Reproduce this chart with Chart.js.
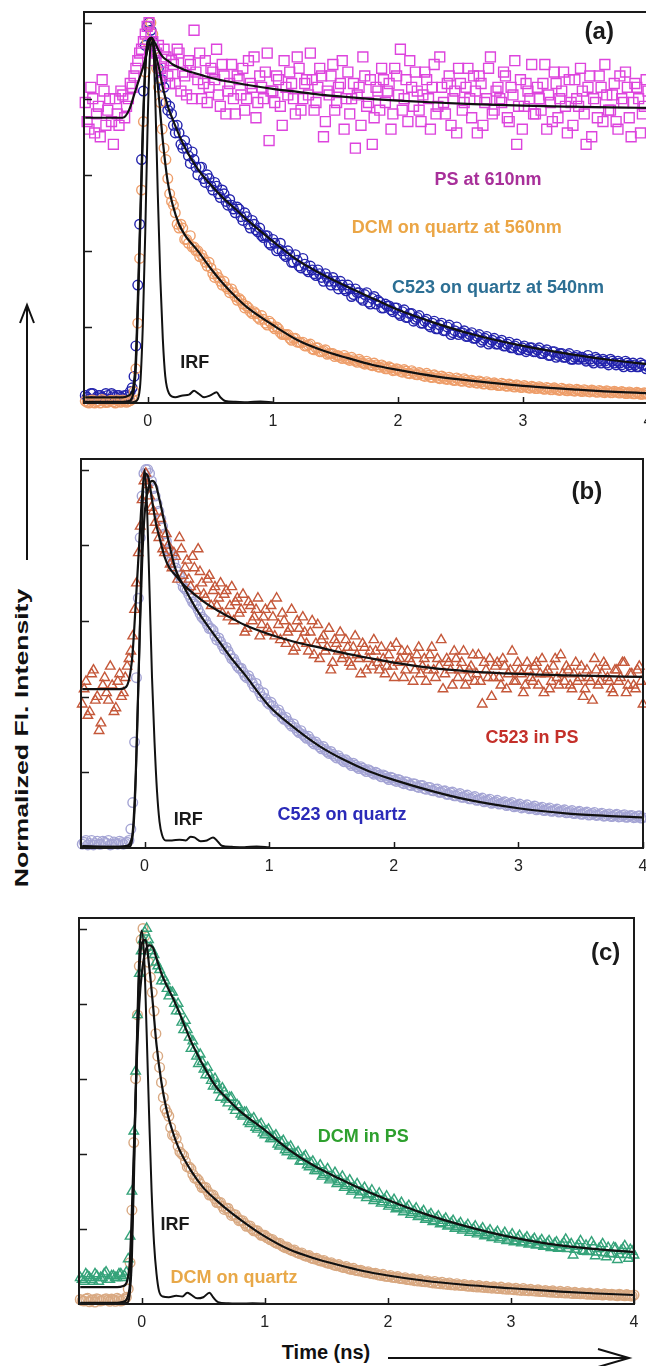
<!DOCTYPE html>
<html>
<head>
<meta charset="utf-8">
<script src="https://cdn.jsdelivr.net/npm/chart.js@4.4.0/dist/chart.umd.min.js"></script>
<style>
html,body{margin:0;padding:0;background:#fff;}
body{width:646px;height:1366px;position:relative;overflow:hidden;font-family:"Liberation Sans",Arial,sans-serif;}
.panel{position:absolute;}
.ytitle{position:absolute;left:22px;top:738px;transform:translate(-50%,-50%) rotate(-90deg) scaleX(1.4);font-weight:bold;font-size:19px;white-space:nowrap;color:#111;}
.xtitle{position:absolute;left:326px;top:1352px;transform:translate(-50%,-50%);font-weight:bold;font-size:20px;white-space:nowrap;color:#111;}
svg{position:absolute;left:0;top:0;}
</style>
</head>
<body>
<div class="panel" style="left:64px;top:2px;width:604px;height:431px"><canvas id="chartA"></canvas></div>
<div class="panel" style="left:61px;top:449px;width:602px;height:429px"><canvas id="chartB"></canvas></div>
<div class="panel" style="left:59px;top:908px;width:595px;height:426px"><canvas id="chartC"></canvas></div>
<div class="ytitle">Normalized Fl. Intensity</div>
<div class="xtitle">Time (ns)</div>
<svg width="646" height="1366">
  <g stroke="#111" stroke-width="2" fill="none">
    <line x1="27" y1="560" x2="27" y2="306"/>
    <polyline points="20,323 27,305 34,323"/>
    <line x1="388" y1="1358" x2="628" y2="1358"/>
    <polyline points="598,1349 629,1358 598,1367"/>
  </g>
</svg>
<script>
// time axis of the measured points (ns), two interleaved sweeps
const timeGrid = [
  -0.50,-0.47,-0.44,-0.41,-0.38,-0.35,-0.32,-0.29,-0.26,-0.23,
  -0.20,-0.17,-0.14,-0.11,-0.08,-0.05,-0.02,0.01,0.04,0.07,
  0.10,0.13,0.16,0.19,0.22,0.25,0.28,0.31,0.34,0.37,
  0.40,0.43,0.46,0.49,0.52,0.55,0.58,0.61,0.64,0.67,
  0.70,0.73,0.76,0.79,0.82,0.85,0.88,0.91,0.94,0.97,
  1.00,1.03,1.06,1.09,1.12,1.15,1.18,1.21,1.24,1.27,
  1.30,1.33,1.36,1.39,1.42,1.45,1.48,1.51,1.54,1.57,
  1.60,1.63,1.66,1.69,1.72,1.75,1.78,1.81,1.84,1.87,
  1.90,1.93,1.96,1.99,2.02,2.05,2.08,2.11,2.14,2.17,
  2.20,2.23,2.26,2.29,2.32,2.35,2.38,2.41,2.44,2.47,
  2.50,2.53,2.56,2.59,2.62,2.65,2.68,2.71,2.74,2.77,
  2.80,2.83,2.86,2.89,2.92,2.95,2.98,3.01,3.04,3.07,
  3.10,3.13,3.16,3.19,3.22,3.25,3.28,3.31,3.34,3.37,
  3.40,3.43,3.46,3.49,3.52,3.55,3.58,3.61,3.64,3.67,
  3.70,3.73,3.76,3.79,3.82,3.85,3.88,3.91,3.94,3.97,
  4.00];
const timeGrid2 = [
  -0.485,-0.455,-0.425,-0.395,-0.365,-0.335,-0.305,-0.275,-0.245,-0.215,
  -0.185,-0.155,-0.125,-0.095,-0.065,-0.035,-0.005,0.025,0.055,0.085,
  0.115,0.145,0.175,0.205,0.235,0.265,0.295,0.325,0.355,0.385,
  0.415,0.445,0.475,0.505,0.535,0.565,0.595,0.625,0.655,0.685,
  0.715,0.745,0.775,0.805,0.835,0.865,0.895,0.925,0.955,0.985,
  1.015,1.045,1.075,1.105,1.135,1.165,1.195,1.225,1.255,1.285,
  1.315,1.345,1.375,1.405,1.435,1.465,1.495,1.525,1.555,1.585,
  1.615,1.645,1.675,1.705,1.735,1.765,1.795,1.825,1.855,1.885,
  1.915,1.945,1.975,2.005,2.035,2.065,2.095,2.125,2.155,2.185,
  2.215,2.245,2.275,2.305,2.335,2.365,2.395,2.425,2.455,2.485,
  2.515,2.545,2.575,2.605,2.635,2.665,2.695,2.725,2.755,2.785,
  2.815,2.845,2.875,2.905,2.935,2.965,2.995,3.025,3.055,3.085,
  3.115,3.145,3.175,3.205,3.235,3.265,3.295,3.325,3.355,3.385,
  3.415,3.445,3.475,3.505,3.535,3.565,3.595,3.625,3.655,3.685,
  3.715,3.745,3.775,3.805,3.835,3.865,3.895,3.925,3.955,3.985];

// (a) PS at 610nm
const psA = [
  0.79,0.72,0.80,0.76,0.70,0.82,0.77,0.74,0.80,0.73,
  0.81,0.78,0.84,0.86,0.90,0.93,0.97,1.00,0.95,0.92,
  0.88,0.93,0.86,0.90,0.84,0.92,0.87,0.81,0.89,0.98,
  0.85,0.80,0.90,0.83,0.87,0.93,0.78,0.86,0.82,0.89,
  0.76,0.85,0.88,0.80,0.84,0.91,0.79,0.83,0.87,0.69,
  0.82,0.86,0.78,0.90,0.81,0.84,0.76,0.88,0.80,0.85,
  0.92,0.77,0.83,0.86,0.74,0.81,0.89,0.79,0.84,0.72,
  0.87,0.80,0.67,0.83,0.91,0.78,0.85,0.75,0.82,0.88,
  0.79,0.84,0.76,0.86,0.93,0.80,0.74,0.83,0.87,0.77,
  0.81,0.85,0.72,0.89,0.78,0.83,0.76,0.86,0.80,0.71,
  0.84,0.79,0.88,0.75,0.82,0.86,0.73,0.80,0.91,0.77,
  0.83,0.79,0.86,0.74,0.81,0.68,0.85,0.78,0.82,0.89,
  0.76,0.80,0.84,0.72,0.79,0.87,0.75,0.82,0.78,0.85,
  0.73,0.80,0.88,0.76,0.83,0.70,0.79,0.86,0.74,0.81,
  0.77,0.84,0.72,0.80,0.87,0.75,0.79,0.83,0.71,0.78,
  0.82];
const psA2 = [
  0.74,0.83,0.71,0.78,0.85,0.73,0.80,0.68,0.76,0.82,
  0.75,0.80,0.83,0.88,0.92,0.95,0.99,0.97,0.90,0.94,
  0.87,0.91,0.84,0.89,0.93,0.82,0.86,0.90,0.80,0.87,
  0.92,0.84,0.79,0.88,0.85,0.81,0.89,0.76,0.84,0.80,
  0.86,0.81,0.77,0.90,0.83,0.75,0.86,0.80,0.92,0.82,
  0.79,0.85,0.73,0.83,0.87,0.80,0.91,0.77,0.84,0.81,
  0.85,0.79,0.88,0.70,0.82,0.86,0.77,0.83,0.90,0.80,
  0.76,0.84,0.81,0.73,0.86,0.79,0.68,0.83,0.77,0.85,
  0.82,0.72,0.88,0.81,0.77,0.85,0.90,0.78,0.82,0.74,
  0.87,0.80,0.83,0.76,0.91,0.79,0.84,0.73,0.82,0.88,
  0.77,0.83,0.80,0.86,0.71,0.84,0.79,0.88,0.76,0.82,
  0.80,0.87,0.75,0.83,0.90,0.78,0.72,0.84,0.80,0.76,
  0.83,0.77,0.89,0.81,0.74,0.84,0.80,0.87,0.71,0.79,
  0.85,0.78,0.82,0.68,0.86,0.80,0.75,0.83,0.89,0.77,
  0.81,0.74,0.86,0.79,0.83,0.70,0.84,0.80,0.76,0.85];
// (a) DCM on quartz at 560nm
const dcmQuartzA = [
  0.005,0.0,0.008,0.003,0.0,0.006,0.002,0.007,0.0,0.004,
  0.008,0.002,0.006,0.03,0.21,0.56,0.87,0.99,0.97,0.88,
  0.79,0.67,0.59,0.53,0.50,0.46,0.46,0.43,0.44,0.41,
  0.40,0.39,0.37,0.37,0.34,0.34,0.32,0.32,0.30,0.30,
  0.28,0.275,0.26,0.255,0.24,0.24,0.225,0.23,0.21,0.215,
  0.20,0.20,0.185,0.18,0.18,0.165,0.17,0.16,0.16,0.15,
  0.155,0.14,0.145,0.135,0.14,0.13,0.13,0.125,0.12,0.125,
  0.115,0.12,0.11,0.115,0.105,0.11,0.10,0.105,0.095,0.10,
  0.09,0.095,0.085,0.09,0.083,0.088,0.078,0.085,0.075,0.08,
  0.072,0.078,0.068,0.074,0.066,0.071,0.063,0.068,0.06,0.066,
  0.058,0.064,0.056,0.06,0.053,0.058,0.05,0.056,0.048,0.053,
  0.046,0.052,0.045,0.05,0.043,0.048,0.041,0.046,0.04,0.044,
  0.038,0.043,0.037,0.041,0.035,0.04,0.034,0.039,0.033,0.037,
  0.032,0.036,0.031,0.035,0.03,0.034,0.029,0.033,0.028,0.032,
  0.027,0.031,0.027,0.03,0.025,0.029,0.024,0.028,0.023,0.027,
  0.022];
const dcmQuartzA2 = [
  0.002,0.007,0.0,0.005,0.009,0.001,0.006,0.003,0.008,0.002,
  0.005,0.004,0.01,0.09,0.38,0.74,0.95,1.00,0.93,0.83,
  0.72,0.64,0.55,0.52,0.47,0.47,0.43,0.42,0.41,0.40,
  0.385,0.38,0.36,0.355,0.33,0.33,0.31,0.305,0.29,0.29,
  0.27,0.27,0.25,0.25,0.235,0.235,0.22,0.22,0.205,0.21,
  0.195,0.195,0.18,0.18,0.17,0.17,0.16,0.158,0.15,0.152,
  0.142,0.145,0.135,0.137,0.128,0.13,0.122,0.124,0.117,0.118,
  0.112,0.114,0.107,0.109,0.102,0.104,0.098,0.1,0.094,0.096,
  0.09,0.092,0.086,0.088,0.081,0.084,0.077,0.08,0.074,0.077,
  0.07,0.073,0.067,0.07,0.064,0.067,0.062,0.064,0.059,0.062,
  0.057,0.06,0.054,0.057,0.052,0.055,0.05,0.052,0.048,0.05,
  0.046,0.049,0.044,0.047,0.042,0.045,0.041,0.043,0.039,0.042,
  0.038,0.04,0.036,0.039,0.035,0.037,0.033,0.036,0.032,0.035,
  0.031,0.034,0.03,0.033,0.029,0.032,0.028,0.031,0.027,0.03,
  0.027,0.029,0.026,0.028,0.025,0.027,0.024,0.026,0.023,0.025];
// (a) C523 on quartz at 540nm
const c523QuartzA = [
  0.02,0.01,0.025,0.015,0.02,0.01,0.02,0.025,0.015,0.02,
  0.01,0.02,0.03,0.07,0.31,0.64,0.94,1.00,0.95,0.92,
  0.85,0.83,0.77,0.76,0.71,0.71,0.67,0.67,0.63,0.64,
  0.60,0.62,0.58,0.59,0.56,0.57,0.54,0.55,0.52,0.52,
  0.50,0.51,0.48,0.49,0.46,0.47,0.45,0.44,0.44,0.42,
  0.43,0.40,0.42,0.39,0.40,0.37,0.39,0.36,0.38,0.35,
  0.36,0.34,0.35,0.33,0.34,0.32,0.33,0.31,0.32,0.30,
  0.31,0.28,0.30,0.29,0.27,0.29,0.26,0.28,0.27,0.25,
  0.26,0.255,0.24,0.25,0.23,0.245,0.225,0.235,0.22,0.23,
  0.21,0.22,0.20,0.215,0.195,0.21,0.19,0.205,0.185,0.20,
  0.185,0.19,0.175,0.185,0.17,0.18,0.165,0.175,0.16,0.17,
  0.155,0.165,0.15,0.16,0.145,0.155,0.14,0.15,0.14,0.145,
  0.135,0.145,0.13,0.14,0.125,0.135,0.125,0.13,0.12,0.13,
  0.115,0.125,0.12,0.115,0.125,0.11,0.12,0.11,0.115,0.105,
  0.115,0.105,0.11,0.10,0.11,0.10,0.105,0.095,0.105,0.10,
  0.095];
const c523QuartzA2 = [
  0.015,0.025,0.01,0.02,0.015,0.025,0.01,0.02,0.02,0.015,
  0.02,0.015,0.04,0.15,0.47,0.82,0.99,0.98,0.93,0.88,
  0.85,0.79,0.78,0.73,0.73,0.68,0.69,0.65,0.66,0.62,
  0.62,0.59,0.60,0.57,0.58,0.55,0.56,0.53,0.535,0.51,
  0.515,0.49,0.50,0.47,0.48,0.455,0.46,0.435,0.44,0.415,
  0.42,0.405,0.40,0.385,0.39,0.37,0.375,0.355,0.365,0.345,
  0.35,0.335,0.34,0.32,0.33,0.31,0.32,0.30,0.31,0.295,
  0.30,0.285,0.29,0.275,0.285,0.265,0.275,0.26,0.265,0.25,
  0.255,0.245,0.25,0.235,0.24,0.225,0.235,0.215,0.225,0.21,
  0.215,0.205,0.21,0.195,0.205,0.19,0.20,0.18,0.19,0.18,
  0.185,0.175,0.18,0.17,0.175,0.16,0.17,0.155,0.165,0.155,
  0.16,0.15,0.155,0.145,0.15,0.14,0.145,0.135,0.145,0.135,
  0.14,0.13,0.135,0.125,0.135,0.12,0.13,0.12,0.125,0.115,
  0.12,0.115,0.12,0.11,0.115,0.105,0.115,0.105,0.11,0.10,
  0.11,0.10,0.105,0.095,0.105,0.095,0.10,0.095,0.10,0.09];

// (b) C523 in PS
const c523PsB = [
  0.38,0.44,0.36,0.47,0.40,0.33,0.45,0.39,0.43,0.37,
  0.46,0.41,0.48,0.52,0.63,0.78,0.92,0.99,0.93,0.89,
  0.84,0.87,0.78,0.80,0.74,0.77,0.82,0.72,0.76,0.69,
  0.74,0.79,0.70,0.66,0.72,0.68,0.64,0.70,0.67,0.61,
  0.69,0.65,0.62,0.67,0.58,0.64,0.61,0.66,0.59,0.63,
  0.57,0.61,0.66,0.55,0.60,0.57,0.63,0.53,0.58,0.61,
  0.54,0.57,0.51,0.59,0.55,0.52,0.58,0.49,0.54,0.57,
  0.51,0.53,0.48,0.56,0.50,0.54,0.47,0.52,0.55,0.49,
  0.53,0.46,0.51,0.48,0.54,0.50,0.45,0.52,0.49,0.47,
  0.53,0.48,0.44,0.51,0.47,0.50,0.55,0.46,0.49,0.43,
  0.50,0.47,0.52,0.45,0.48,0.44,0.51,0.38,0.47,0.50,
  0.45,0.49,0.43,0.48,0.46,0.52,0.44,0.47,0.41,0.49,
  0.45,0.48,0.43,0.50,0.46,0.42,0.48,0.45,0.51,0.44,
  0.47,0.42,0.49,0.45,0.40,0.47,0.44,0.50,0.43,0.46,
  0.48,0.44,0.41,0.47,0.45,0.49,0.43,0.46,0.42,0.48,
  0.38];
const c523PsB2 = [
  0.42,0.35,0.46,0.39,0.31,0.43,0.41,0.48,0.36,0.44,
  0.40,0.45,0.50,0.56,0.70,0.85,0.97,0.96,0.90,0.86,
  0.82,0.79,0.83,0.75,0.78,0.71,0.79,0.74,0.71,0.77,
  0.68,0.73,0.67,0.71,0.64,0.69,0.66,0.62,0.68,0.64,
  0.60,0.66,0.63,0.57,0.65,0.60,0.63,0.56,0.61,0.58,
  0.64,0.56,0.59,0.62,0.54,0.58,0.52,0.60,0.55,0.57,
  0.52,0.60,0.54,0.50,0.56,0.53,0.47,0.55,0.52,0.50,
  0.55,0.49,0.53,0.51,0.46,0.53,0.50,0.48,0.52,0.47,
  0.50,0.48,0.53,0.45,0.49,0.52,0.47,0.50,0.44,0.51,
  0.46,0.50,0.47,0.53,0.45,0.48,0.42,0.50,0.47,0.52,
  0.45,0.49,0.43,0.47,0.51,0.46,0.44,0.49,0.45,0.40,
  0.48,0.45,0.50,0.42,0.47,0.44,0.49,0.46,0.43,0.47,
  0.44,0.49,0.46,0.41,0.47,0.44,0.50,0.43,0.46,0.48,
  0.43,0.46,0.44,0.48,0.42,0.45,0.39,0.47,0.44,0.49,
  0.45,0.42,0.47,0.44,0.49,0.41,0.46,0.43,0.47,0.44];
// (b) C523 on quartz
const c523QuartzB = [
  0.01,0.02,0.012,0.008,0.018,0.01,0.015,0.02,0.01,0.012,
  0.018,0.01,0.015,0.05,0.28,0.66,0.93,1.00,0.99,0.95,
  0.91,0.87,0.83,0.79,0.77,0.74,0.72,0.69,0.68,0.66,
  0.645,0.63,0.61,0.60,0.58,0.575,0.55,0.545,0.525,0.52,
  0.50,0.49,0.475,0.465,0.45,0.445,0.425,0.42,0.40,0.395,
  0.38,0.375,0.36,0.355,0.34,0.335,0.322,0.318,0.305,0.30,
  0.29,0.287,0.275,0.273,0.262,0.26,0.25,0.248,0.238,0.237,
  0.228,0.228,0.218,0.219,0.21,0.211,0.202,0.204,0.195,0.197,
  0.188,0.19,0.181,0.185,0.176,0.179,0.17,0.174,0.165,0.169,
  0.16,0.165,0.155,0.16,0.151,0.156,0.147,0.151,0.142,0.148,
  0.138,0.144,0.134,0.14,0.13,0.136,0.127,0.132,0.124,0.129,
  0.12,0.126,0.117,0.122,0.114,0.12,0.111,0.116,0.108,0.114,
  0.105,0.111,0.103,0.108,0.1,0.106,0.098,0.103,0.096,0.101,
  0.094,0.099,0.092,0.097,0.09,0.095,0.088,0.094,0.087,0.092,
  0.085,0.09,0.084,0.089,0.083,0.088,0.082,0.086,0.081,0.085,
  0.08];
const c523QuartzB2 = [
  0.015,0.008,0.02,0.012,0.01,0.018,0.012,0.008,0.016,0.01,
  0.014,0.012,0.02,0.12,0.45,0.82,0.99,1.00,0.97,0.93,
  0.89,0.85,0.81,0.78,0.755,0.73,0.705,0.685,0.67,0.65,
  0.64,0.62,0.605,0.59,0.58,0.56,0.555,0.535,0.53,0.51,
  0.50,0.48,0.475,0.455,0.455,0.435,0.435,0.41,0.41,0.385,
  0.385,0.365,0.365,0.345,0.345,0.328,0.328,0.31,0.31,0.295,
  0.295,0.28,0.28,0.267,0.268,0.255,0.255,0.243,0.244,0.232,
  0.233,0.223,0.224,0.214,0.215,0.206,0.207,0.199,0.2,0.192,
  0.193,0.185,0.187,0.179,0.181,0.173,0.175,0.167,0.17,0.162,
  0.165,0.157,0.16,0.152,0.155,0.147,0.15,0.142,0.146,0.138,
  0.141,0.134,0.137,0.13,0.133,0.126,0.129,0.122,0.126,0.118,
  0.122,0.116,0.119,0.112,0.116,0.109,0.113,0.106,0.11,0.104,
  0.107,0.101,0.105,0.099,0.103,0.097,0.1,0.095,0.098,0.093,
  0.096,0.091,0.095,0.089,0.093,0.087,0.091,0.086,0.09,0.084,
  0.088,0.083,0.087,0.082,0.086,0.081,0.085,0.08,0.084,0.079];

// (c) DCM in PS
const dcmPsC = [
  0.07,0.06,0.075,0.065,0.08,0.06,0.07,0.085,0.065,0.075,
  0.07,0.08,0.075,0.12,0.30,0.62,0.88,0.97,1.00,0.95,
  0.93,0.90,0.86,0.86,0.82,0.83,0.78,0.78,0.73,0.73,
  0.68,0.68,0.64,0.645,0.61,0.61,0.58,0.585,0.55,0.565,
  0.535,0.55,0.515,0.525,0.50,0.51,0.48,0.495,0.465,0.48,
  0.45,0.465,0.44,0.45,0.42,0.435,0.405,0.42,0.395,0.405,
  0.38,0.395,0.365,0.38,0.355,0.37,0.345,0.36,0.335,0.35,
  0.325,0.34,0.315,0.33,0.305,0.32,0.298,0.31,0.29,0.303,
  0.28,0.295,0.272,0.287,0.265,0.278,0.257,0.27,0.25,0.262,
  0.243,0.255,0.236,0.248,0.229,0.24,0.222,0.234,0.216,0.228,
  0.21,0.222,0.205,0.216,0.2,0.211,0.195,0.207,0.19,0.202,
  0.185,0.197,0.18,0.193,0.176,0.19,0.172,0.186,0.168,0.182,
  0.165,0.178,0.162,0.174,0.158,0.171,0.155,0.168,0.152,0.165,
  0.15,0.163,0.147,0.16,0.145,0.158,0.142,0.156,0.14,0.154,
  0.138,0.152,0.136,0.15,0.134,0.148,0.132,0.147,0.131,0.145,
  0.13];
const dcmPsC2 = [
  0.065,0.08,0.07,0.06,0.075,0.07,0.08,0.065,0.075,0.07,
  0.08,0.07,0.085,0.18,0.46,0.77,0.94,0.99,0.97,0.94,
  0.91,0.89,0.87,0.84,0.83,0.80,0.80,0.75,0.755,0.71,
  0.70,0.66,0.665,0.625,0.63,0.595,0.60,0.57,0.575,0.545,
  0.55,0.525,0.53,0.505,0.51,0.485,0.49,0.47,0.475,0.455,
  0.46,0.44,0.445,0.425,0.43,0.41,0.415,0.395,0.40,0.38,
  0.39,0.37,0.375,0.355,0.36,0.34,0.35,0.33,0.34,0.32,
  0.33,0.31,0.32,0.30,0.31,0.29,0.30,0.283,0.293,0.275,
  0.285,0.268,0.278,0.26,0.27,0.253,0.262,0.245,0.255,0.238,
  0.248,0.232,0.241,0.225,0.235,0.219,0.228,0.213,0.222,0.207,
  0.216,0.201,0.21,0.196,0.205,0.19,0.2,0.186,0.195,0.181,
  0.19,0.176,0.186,0.172,0.182,0.168,0.178,0.165,0.175,0.162,
  0.172,0.159,0.168,0.156,0.165,0.153,0.162,0.15,0.16,0.148,
  0.157,0.172,0.155,0.13,0.153,0.168,0.14,0.139,0.165,0.128,
  0.147,0.16,0.125,0.133,0.15,0.118,0.142,0.155,0.121,0.14];
// (c) DCM on quartz
const dcmQuartzC = [
  0.012,0.008,0.015,0.01,0.005,0.012,0.009,0.014,0.007,0.011,
  0.015,0.008,0.013,0.04,0.25,0.60,0.90,1.00,0.95,0.87,
  0.78,0.66,0.59,0.52,0.50,0.45,0.44,0.405,0.395,0.365,
  0.36,0.335,0.33,0.31,0.31,0.29,0.29,0.27,0.27,0.252,
  0.255,0.236,0.238,0.222,0.222,0.207,0.208,0.195,0.195,0.183,
  0.183,0.175,0.172,0.163,0.162,0.153,0.152,0.144,0.144,0.136,
  0.136,0.128,0.129,0.121,0.122,0.115,0.116,0.109,0.11,0.103,
  0.105,0.098,0.1,0.093,0.095,0.089,0.09,0.085,0.086,0.081,
  0.082,0.077,0.079,0.074,0.076,0.071,0.073,0.068,0.07,0.065,
  0.067,0.063,0.065,0.06,0.062,0.058,0.06,0.056,0.058,0.054,
  0.056,0.052,0.054,0.05,0.052,0.048,0.05,0.047,0.049,0.045,
  0.047,0.044,0.046,0.042,0.045,0.041,0.043,0.04,0.042,0.038,
  0.041,0.037,0.039,0.035,0.038,0.034,0.036,0.033,0.035,0.031,
  0.034,0.03,0.033,0.029,0.031,0.028,0.03,0.027,0.029,0.026,
  0.028,0.025,0.027,0.025,0.026,0.024,0.026,0.023,0.025,0.022,
  0.024];
const dcmQuartzC2 = [
  0.009,0.013,0.006,0.011,0.014,0.008,0.012,0.01,0.013,0.007,
  0.012,0.01,0.018,0.11,0.43,0.77,0.97,0.98,0.91,0.83,
  0.72,0.63,0.55,0.51,0.47,0.45,0.42,0.40,0.38,0.365,
  0.345,0.335,0.32,0.31,0.30,0.29,0.28,0.27,0.26,0.255,
  0.245,0.238,0.23,0.222,0.215,0.208,0.2,0.195,0.188,0.183,
  0.177,0.171,0.166,0.161,0.156,0.15,0.147,0.142,0.138,0.134,
  0.13,0.127,0.123,0.12,0.117,0.114,0.111,0.108,0.105,0.102,
  0.1,0.097,0.095,0.092,0.09,0.088,0.086,0.084,0.082,0.08,
  0.078,0.076,0.074,0.073,0.071,0.07,0.068,0.067,0.065,0.064,
  0.062,0.061,0.06,0.059,0.058,0.056,0.055,0.054,0.053,0.052,
  0.051,0.05,0.05,0.049,0.048,0.047,0.046,0.045,0.045,0.044,
  0.043,0.042,0.042,0.041,0.04,0.039,0.039,0.038,0.037,0.036,
  0.036,0.035,0.035,0.034,0.033,0.033,0.032,0.031,0.031,0.03,
  0.03,0.029,0.029,0.028,0.028,0.027,0.027,0.026,0.026,0.025,
  0.025,0.024,0.025,0.023,0.024,0.022,0.024,0.022,0.023,0.021];

// fitted curves (black lines)
const fitTime = [-0.5,-0.2,-0.15,-0.1,-0.07,-0.04,-0.02,0,
  0.03,0.06,0.09,0.12,0.16,0.2,0.25,0.3,
  0.4,0.5,0.6,0.7,0.8,
  1.0,1.2,1.4,1.6,1.8,2.0,
  2.3,2.6,3.0,3.4,3.7,4.0];
const fitPsA = [0.75,0.75,0.77,0.82,0.85,0.88,0.905,0.93,
  0.96,0.945,0.925,0.91,0.90,0.89,0.882,0.875,
  0.865,0.855,0.848,0.842,0.836,
  0.826,0.818,0.81,0.804,0.799,0.795,
  0.79,0.786,0.782,0.779,0.777,0.776];
const fitDcmQuartzA = [0.003,0.003,0.005,0.07,0.35,0.70,0.88,0.95,
  0.96,0.90,0.80,0.69,0.58,0.52,0.47,0.44,
  0.40,0.355,0.315,0.28,0.25,
  0.205,0.165,0.138,0.118,0.10,0.087,
  0.07,0.058,0.045,0.036,0.03,0.026];
const fitC523QuartzA = [0.015,0.015,0.02,0.09,0.38,0.72,0.88,0.95,
  0.96,0.92,0.88,0.83,0.78,0.745,0.705,0.67,
  0.615,0.575,0.54,0.51,0.48,
  0.425,0.375,0.337,0.305,0.275,0.245,
  0.21,0.18,0.15,0.127,0.113,0.102];
const fitC523PsB = [0.42,0.42,0.425,0.50,0.65,0.82,0.93,0.99,
  0.98,0.92,0.86,0.82,0.77,0.74,0.72,0.70,
  0.67,0.645,0.625,0.607,0.59,
  0.565,0.545,0.53,0.515,0.502,0.49,
  0.476,0.467,0.46,0.456,0.454,0.452];
const fitC523QuartzB = [0.003,0.003,0.005,0.03,0.2,0.55,0.75,0.88,
  0.95,0.97,0.96,0.92,0.86,0.80,0.735,0.70,
  0.64,0.59,0.545,0.50,0.46,
  0.375,0.318,0.27,0.233,0.203,0.18,
  0.151,0.127,0.105,0.091,0.085,0.081];
const fitDcmPsC = [0.045,0.045,0.048,0.1,0.35,0.65,0.8,0.88,
  0.94,0.955,0.95,0.92,0.88,0.85,0.817,0.78,
  0.70,0.635,0.58,0.545,0.513,
  0.463,0.41,0.368,0.335,0.304,0.277,
  0.24,0.21,0.178,0.156,0.146,0.138];
const fitDcmQuartzC = [0.003,0.003,0.006,0.04,0.3,0.68,0.88,0.96,
  0.97,0.9,0.8,0.69,0.59,0.52,0.46,0.415,
  0.355,0.31,0.278,0.25,0.225,
  0.18,0.145,0.122,0.104,0.088,0.076,
  0.062,0.052,0.042,0.033,0.028,0.024];

// instrument response function
const irfTime = [-0.5,-0.2,-0.12,-0.1,-0.08,-0.06,-0.04,-0.02,
  0,0.02,0.04,0.06,0.08,0.1,0.12,0.14,
  0.17,0.22,0.28,0.33,0.37,0.4,0.45,0.5,
  0.55,0.58,0.62,0.7,0.8,0.9,1.0];
const irfA = [0.002,0.002,0.002,0.004,0.01,0.05,0.2,0.45,
  0.75,0.93,0.95,0.8,0.55,0.33,0.17,0.07,
  0.025,0.015,0.02,0.022,0.032,0.026,0.015,0.02,
  0.028,0.015,0.005,0.003,0.002,0.004,0.002];
const irfB = [0.005,0.003,0.004,0.02,0.1,0.3,0.55,0.85,
  1.0,0.9,0.68,0.45,0.28,0.15,0.07,0.035,
  0.02,0.02,0.022,0.02,0.03,0.028,0.018,0.02,
  0.028,0.02,0.006,0.003,0.002,0.004,0.002];
const irfC = [0.002,0.002,0.003,0.02,0.12,0.38,0.7,0.93,
  0.995,0.92,0.72,0.5,0.3,0.16,0.08,0.035,
  0.02,0.018,0.022,0.02,0.03,0.025,0.015,0.018,
  0.03,0.018,0.005,0.002,0.001,0.002,0.001];

const xTicks = [0, 1, 2, 3, 4];
const yTicks = [0.2, 0.4, 0.6, 0.8, 1.0];

Chart.defaults.font.family = '"Liberation Sans", Arial, sans-serif';
const LBL = 'bold 18px "Liberation Sans", Arial, sans-serif';
const TAG = 'bold 24px "Liberation Sans", Arial, sans-serif';

function markers(times, vals, style, color, r) {
  return {
    data: times.map((t, i) => ({x: t, y: vals[i]})),
    showLine: false, pointStyle: style, pointRadius: r,
    pointBorderColor: color, pointBackgroundColor: 'rgba(0,0,0,0)',
    pointBorderWidth: 1.4, order: 2, clip: 6
  };
}
function curve(times, vals, w) {
  return {
    data: times.map((t, i) => ({x: t, y: vals[i]})),
    showLine: true, borderColor: '#111', borderWidth: w, pointRadius: 0,
    cubicInterpolationMode: 'monotone', fill: false, order: 1, clip: 4
  };
}

// box, inward ticks and in-plot labels
function frame(labels) {
  return {
    id: 'frame',
    afterDraw(chart) {
      const {ctx, chartArea: a} = chart;
      const x = chart.scales.x, y = chart.scales.y;
      ctx.save();
      ctx.strokeStyle = '#1a1a1a';
      ctx.lineWidth = 2;
      ctx.strokeRect(a.left, a.top, a.right - a.left, a.bottom - a.top);
      ctx.lineWidth = 1.5;
      ctx.beginPath();
      yTicks.forEach(v => {
        const py = Math.round(y.getPixelForValue(v)) + 0.5;
        ctx.moveTo(a.left, py); ctx.lineTo(a.left + 8, py);
      });
      xTicks.forEach(v => {
        const px = Math.round(x.getPixelForValue(v)) + 0.5;
        ctx.moveTo(px, a.bottom); ctx.lineTo(px, a.bottom - 6);
      });
      ctx.stroke();
      ctx.textAlign = 'center';
      ctx.textBaseline = 'middle';
      labels.forEach(l => {
        ctx.font = l.font;
        ctx.fillStyle = l.color;
        ctx.fillText(l.text, x.getPixelForValue(l.x), y.getPixelForValue(l.y));
      });
      ctx.restore();
    }
  };
}

function makeChart(id, datasets, labels) {
  return new Chart(document.getElementById(id), {
    type: 'scatter',
    data: {datasets: datasets},
    options: {
      responsive: true, maintainAspectRatio: false, animation: false,
      devicePixelRatio: 1,
      layout: {padding: {left: 20, right: 20, top: 10, bottom: 0}},
      plugins: {legend: {display: false}, tooltip: {enabled: false}},
      scales: {
        x: {
          type: 'linear', min: -0.51, max: 4.0,
          grid: {display: false, drawTicks: false}, border: {display: false},
          ticks: {padding: 9, color: '#222', font: {size: 16}},
          afterBuildTicks: s => { s.ticks = xTicks.map(v => ({value: v})); },
          afterFit: s => { s.height = 30; }
        },
        y: {display: false, min: 0, max: 1.028}
      }
    },
    plugins: [frame(labels)]
  });
}

makeChart('chartA', [
  curve(irfTime, irfA, 2),
  curve(fitTime, fitPsA, 2.2),
  curve(fitTime, fitC523QuartzA, 2.2),
  curve(fitTime, fitDcmQuartzA, 2.2),
  markers(timeGrid, psA, 'rect', '#dd44dd', 7),
  markers(timeGrid2, psA2, 'rect', '#dd44dd', 7),
  markers(timeGrid, dcmQuartzA, 'circle', '#ee9e6a', 4.8),
  markers(timeGrid2, dcmQuartzA2, 'circle', '#ee9e6a', 4.8),
  markers(timeGrid, c523QuartzA, 'circle', '#2323ad', 4.8),
  markers(timeGrid2, c523QuartzA2, 'circle', '#2323ad', 4.8)
], [
  {text: '(a)', x: 3.61, y: 0.974, font: TAG, color: '#1a1a1a'},
  {text: 'PS at 610nm', x: 2.72, y: 0.587, font: LBL, color: '#a8309a'},
  {text: 'DCM on quartz at 560nm', x: 2.47, y: 0.46, font: LBL, color: '#eba646'},
  {text: 'C523 on quartz at 540nm', x: 2.8, y: 0.303, font: LBL, color: '#2c6f94'},
  {text: 'IRF', x: 0.376, y: 0.105, font: LBL, color: '#1a1a1a'}
]);

makeChart('chartB', [
  curve(irfTime, irfB, 2),
  curve(fitTime, fitC523PsB, 2.2),
  curve(fitTime, fitC523QuartzB, 2.2),
  markers(timeGrid, c523PsB, 'triangle', '#c5583a', 5.5),
  markers(timeGrid2, c523PsB2, 'triangle', '#c5583a', 5.5),
  markers(timeGrid, c523QuartzB, 'circle', '#a4a4d4', 4.8),
  markers(timeGrid2, c523QuartzB2, 'circle', '#a4a4d4', 4.8)
], [
  {text: '(b)', x: 3.55, y: 0.939, font: TAG, color: '#1a1a1a'},
  {text: 'C523 in PS', x: 3.11, y: 0.291, font: LBL, color: '#c4302a'},
  {text: 'C523 on quartz', x: 1.585, y: 0.087, font: LBL, color: '#2a2ab8'},
  {text: 'IRF', x: 0.35, y: 0.074, font: LBL, color: '#1a1a1a'}
]);

makeChart('chartC', [
  curve(irfTime, irfC, 2),
  curve(fitTime, fitDcmPsC, 2.2),
  curve(fitTime, fitDcmQuartzC, 2.2),
  markers(timeGrid, dcmPsC, 'triangle', '#35a37a', 5.5),
  markers(timeGrid2, dcmPsC2, 'triangle', '#35a37a', 5.5),
  markers(timeGrid, dcmQuartzC, 'circle', '#d9a982', 4.8),
  markers(timeGrid2, dcmQuartzC2, 'circle', '#d9a982', 4.8)
], [
  {text: '(c)', x: 3.77, y: 0.934, font: TAG, color: '#1a1a1a'},
  {text: 'DCM in PS', x: 1.80, y: 0.444, font: LBL, color: '#2ea02e'},
  {text: 'IRF', x: 0.27, y: 0.21, font: LBL, color: '#1a1a1a'},
  {text: 'DCM on quartz', x: 0.75, y: 0.069, font: LBL, color: '#e8a848'}
]);
</script>
</body>
</html>
